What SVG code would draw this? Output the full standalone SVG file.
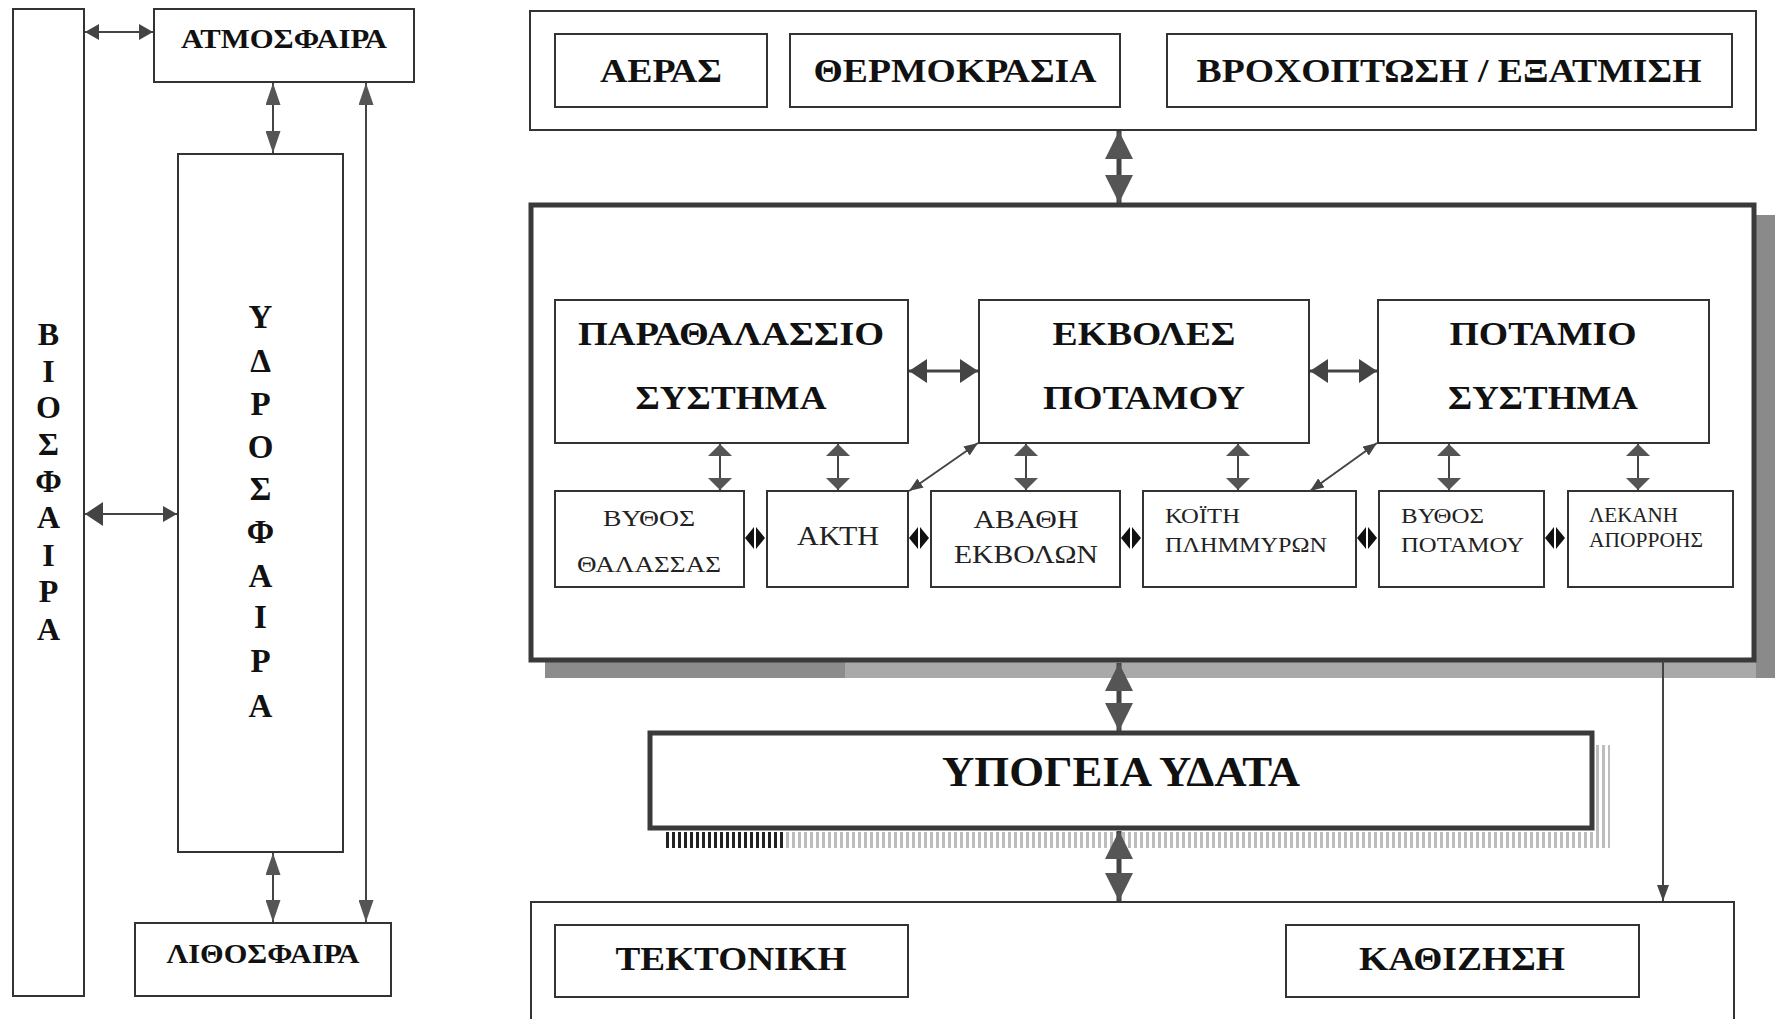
<svg xmlns="http://www.w3.org/2000/svg" width="1776" height="1019" viewBox="0 0 1776 1019">
<style>
  .box { fill: #fff; stroke: #333; stroke-width: 2; }
  .thick { fill: #fff; stroke: #3a3a3a; stroke-width: 5; }
  .b { font-family: "Liberation Serif", "DejaVu Serif", serif; font-weight: bold; fill: #111; text-anchor: middle; }
  .r { font-family: "Liberation Serif", "DejaVu Serif", serif; fill: #222; }
  .c { text-anchor: middle; }
  .ln { stroke: #444; stroke-width: 2; fill: none; }
  .lnm { stroke: #444; stroke-width: 3; fill: none; }
  .lnb { stroke: #444; stroke-width: 5; fill: none; }
  .dia { fill: #111; }
</style>
<defs>
  <marker id="mA" viewBox="0 0 10 10" refX="10" refY="5" markerUnits="userSpaceOnUse" markerWidth="22" markerHeight="15" orient="auto-start-reverse" preserveAspectRatio="none"><path d="M0,0 L10,5 L0,10 z" fill="#555"/></marker>
  <marker id="mB" viewBox="0 0 10 10" refX="10" refY="5" markerUnits="userSpaceOnUse" markerWidth="14" markerHeight="16" orient="auto-start-reverse" preserveAspectRatio="none"><path d="M0,0 L10,5 L0,10 z" fill="#444"/></marker>
  <marker id="mC" viewBox="0 0 10 10" refX="10" refY="5" markerUnits="userSpaceOnUse" markerWidth="28" markerHeight="28" orient="auto-start-reverse" preserveAspectRatio="none"><path d="M0,0 L10,5 L0,10 z" fill="#555"/></marker>
  <marker id="mD" viewBox="0 0 10 10" refX="10" refY="5" markerUnits="userSpaceOnUse" markerWidth="18" markerHeight="24" orient="auto-start-reverse" preserveAspectRatio="none"><path d="M0,0 L10,5 L0,10 z" fill="#444"/></marker>
  <marker id="mE" viewBox="0 0 10 10" refX="10" refY="5" markerUnits="userSpaceOnUse" markerWidth="12" markerHeight="24" orient="auto-start-reverse" preserveAspectRatio="none"><path d="M0,0 L10,5 L0,10 z" fill="#555"/></marker>
  <marker id="mF" viewBox="0 0 10 10" refX="10" refY="5" markerUnits="userSpaceOnUse" markerWidth="14" markerHeight="11" orient="auto-start-reverse" preserveAspectRatio="none"><path d="M0,0 L10,5 L0,10 z" fill="#444"/></marker>
  <marker id="mG" viewBox="0 0 10 10" refX="10" refY="5" markerUnits="userSpaceOnUse" markerWidth="16" markerHeight="12" orient="auto-start-reverse" preserveAspectRatio="none"><path d="M0,0 L10,5 L0,10 z" fill="#444"/></marker>
  <pattern id="stripes" x="0" y="0" width="6" height="10" patternUnits="userSpaceOnUse"><rect x="0" y="0" width="3" height="10" fill="#bdbdbd"/></pattern>
  <pattern id="stripesDark" x="0" y="0" width="6" height="10" patternUnits="userSpaceOnUse"><rect x="0" y="0" width="3" height="10" fill="#222"/></pattern>
</defs>
<rect x="0" y="0" width="1776" height="1019" fill="#fff"/>

<!-- shadows -->
<g id="shadows">
  <rect x="545" y="661" width="300" height="17" fill="#8c8c8c"/>
  <rect x="845" y="661" width="930" height="17" fill="#a9a9a9"/>
  <rect x="1756" y="215" width="19" height="463" fill="#8a8a8a"/>
  <rect x="663" y="832" width="120" height="16" fill="url(#stripesDark)"/>
  <rect x="783" y="832" width="827" height="16" fill="url(#stripes)"/>
  <rect x="1595" y="745" width="15" height="103" fill="url(#stripes)"/>
</g>

<!-- left column -->
<g id="biosfaira">
  <rect class="box" x="13" y="9" width="71" height="987"/>
  <text class="b" font-size="32">
    <tspan x="48.5" y="345">Β</tspan><tspan x="48.5" y="382">Ι</tspan><tspan x="48.5" y="418">Ο</tspan><tspan x="48.5" y="455">Σ</tspan><tspan x="48.5" y="492">Φ</tspan><tspan x="48.5" y="528">Α</tspan><tspan x="48.5" y="566">Ι</tspan><tspan x="48.5" y="602">Ρ</tspan><tspan x="48.5" y="640">Α</tspan>
  </text>
</g>
<g id="atmosfaira">
  <rect class="box" x="154" y="9" width="260" height="73"/>
  <text class="b" x="284" y="48" font-size="27" textLength="206" lengthAdjust="spacingAndGlyphs">ΑΤΜΟΣΦΑΙΡΑ</text>
</g>
<g id="ydrosfaira">
  <rect class="box" x="178" y="154" width="165" height="698"/>
  <text class="b" font-size="33">
    <tspan x="260.5" y="328">Υ</tspan><tspan x="260.5" y="372">Δ</tspan><tspan x="260.5" y="415">Ρ</tspan><tspan x="260.5" y="458">Ο</tspan><tspan x="260.5" y="500">Σ</tspan><tspan x="260.5" y="543">Φ</tspan><tspan x="260.5" y="587">Α</tspan><tspan x="260.5" y="628">Ι</tspan><tspan x="260.5" y="672">Ρ</tspan><tspan x="260.5" y="717">Α</tspan>
  </text>
</g>
<g id="lithosfaira">
  <rect class="box" x="135" y="923" width="256" height="73"/>
  <text class="b" x="263" y="963" font-size="27" textLength="193" lengthAdjust="spacingAndGlyphs">ΛΙΘΟΣΦΑΙΡΑ</text>
</g>

<!-- right: climate -->
<g id="klima">
  <rect class="box" x="530" y="11" width="1226" height="119"/>
</g>
<g id="aeras">
  <rect class="box" x="555" y="34" width="212" height="73"/>
  <text class="b" x="661" y="82" font-size="34" textLength="122" lengthAdjust="spacingAndGlyphs">ΑΕΡΑΣ</text>
</g>
<g id="thermokrasia">
  <rect class="box" x="790" y="34" width="330" height="73"/>
  <text class="b" x="955" y="82" font-size="34" textLength="283" lengthAdjust="spacingAndGlyphs">ΘΕΡΜΟΚΡΑΣΙΑ</text>
</g>
<g id="vroxoptosi">
  <rect class="box" x="1167" y="34" width="565" height="73"/>
  <text class="b" x="1449" y="82" font-size="34" textLength="505" lengthAdjust="spacingAndGlyphs">ΒΡΟΧΟΠΤΩΣΗ / ΕΞΑΤΜΙΣΗ</text>
</g>

<!-- main system -->
<g id="systima">
  <rect class="thick" x="531" y="205" width="1223" height="455"/>
</g>
<g id="parathalassio">
  <rect class="box" x="555" y="300" width="353" height="143"/>
  <text class="b" x="731" y="345" font-size="34" textLength="306" lengthAdjust="spacingAndGlyphs">ΠΑΡΑΘΑΛΑΣΣΙΟ</text>
  <text class="b" x="731" y="409" font-size="34" textLength="191" lengthAdjust="spacingAndGlyphs">ΣΥΣΤΗΜΑ</text>
</g>
<g id="ekvoles">
  <rect class="box" x="979" y="300" width="330" height="143"/>
  <text class="b" x="1144" y="345" font-size="34" textLength="183" lengthAdjust="spacingAndGlyphs">ΕΚΒΟΛΕΣ</text>
  <text class="b" x="1144" y="409" font-size="34" textLength="202" lengthAdjust="spacingAndGlyphs">ΠΟΤΑΜΟΥ</text>
</g>
<g id="potamio">
  <rect class="box" x="1378" y="300" width="331" height="143"/>
  <text class="b" x="1543" y="345" font-size="34" textLength="187" lengthAdjust="spacingAndGlyphs">ΠΟΤΑΜΙΟ</text>
  <text class="b" x="1543" y="409" font-size="34" textLength="190" lengthAdjust="spacingAndGlyphs">ΣΥΣΤΗΜΑ</text>
</g>
<g id="vythos-thalassas">
  <rect class="box" x="555" y="491" width="189" height="96"/>
  <text class="r c" x="649" y="526" font-size="24" textLength="92" lengthAdjust="spacingAndGlyphs">ΒΥΘΟΣ</text>
  <text class="r c" x="649" y="572" font-size="24" textLength="144" lengthAdjust="spacingAndGlyphs">ΘΑΛΑΣΣΑΣ</text>
</g>
<g id="akti">
  <rect class="box" x="767" y="491" width="141" height="96"/>
  <text class="r c" x="838" y="545" font-size="28" textLength="82" lengthAdjust="spacingAndGlyphs">ΑΚΤΗ</text>
</g>
<g id="avathi">
  <rect class="box" x="931" y="491" width="189" height="96"/>
  <text class="r c" x="1026" y="528" font-size="26" textLength="105" lengthAdjust="spacingAndGlyphs">ΑΒΑΘΗ</text>
  <text class="r c" x="1026" y="563" font-size="26" textLength="144" lengthAdjust="spacingAndGlyphs">ΕΚΒΟΛΩΝ</text>
</g>
<g id="koiti">
  <rect class="box" x="1143" y="491" width="213" height="96"/>
  <text class="r" x="1165" y="523" font-size="22" textLength="75" lengthAdjust="spacingAndGlyphs">ΚΟΪΤΗ</text>
  <text class="r" x="1165" y="552" font-size="22" textLength="162" lengthAdjust="spacingAndGlyphs">ΠΛΗΜΜΥΡΩΝ</text>
</g>
<g id="vythos-potamou">
  <rect class="box" x="1379" y="491" width="165" height="96"/>
  <text class="r" x="1401" y="523" font-size="22" textLength="83" lengthAdjust="spacingAndGlyphs">ΒΥΘΟΣ</text>
  <text class="r" x="1401" y="552" font-size="22" textLength="123" lengthAdjust="spacingAndGlyphs">ΠΟΤΑΜΟΥ</text>
</g>
<g id="lekani">
  <rect class="box" x="1568" y="491" width="165" height="96"/>
  <text class="r" x="1589" y="522" font-size="20" textLength="89" lengthAdjust="spacingAndGlyphs">ΛΕΚΑΝΗ</text>
  <text class="r" x="1589" y="547" font-size="20" textLength="114" lengthAdjust="spacingAndGlyphs">ΑΠΟΡΡΟΗΣ</text>
</g>

<!-- groundwater -->
<g id="ypogeia">
  <rect class="thick" x="650" y="733" width="942" height="95"/>
  <text class="b" x="1121" y="786" font-size="42" textLength="358" lengthAdjust="spacingAndGlyphs">ΥΠΟΓΕΙΑ ΥΔΑΤΑ</text>
</g>

<!-- bottom -->
<g id="geologia">
  <rect class="box" x="531" y="902" width="1203" height="140"/>
</g>
<g id="tektoniki">
  <rect class="box" x="555" y="925" width="353" height="72"/>
  <text class="b" x="731" y="970" font-size="34" textLength="231" lengthAdjust="spacingAndGlyphs">ΤΕΚΤΟΝΙΚΗ</text>
</g>
<g id="kathizisi">
  <rect class="box" x="1286" y="925" width="353" height="72"/>
  <text class="b" x="1462" y="970" font-size="34" textLength="206" lengthAdjust="spacingAndGlyphs">ΚΑΘΙΖΗΣΗ</text>
</g>

<!-- connectors -->
<g id="connectors">
  <line class="ln" x1="85" y1="32" x2="153" y2="32" marker-start="url(#mB)" marker-end="url(#mB)"/>
  <line class="ln" x1="85" y1="514" x2="177" y2="514" marker-start="url(#mD)" marker-end="url(#mB)"/>
  <line class="ln" x1="273" y1="83" x2="273" y2="153" marker-start="url(#mA)" marker-end="url(#mA)"/>
  <line class="ln" x1="273" y1="853" x2="273" y2="922" marker-start="url(#mA)" marker-end="url(#mA)"/>
  <line class="ln" x1="366" y1="83" x2="366" y2="922" marker-start="url(#mA)" marker-end="url(#mA)"/>

  <line class="lnb" x1="1119" y1="131" x2="1119" y2="203" marker-start="url(#mC)" marker-end="url(#mC)"/>
  <line class="lnb" x1="1119" y1="663" x2="1119" y2="731" marker-start="url(#mC)" marker-end="url(#mC)"/>
  <line class="lnb" x1="1119" y1="831" x2="1119" y2="901" marker-start="url(#mC)" marker-end="url(#mC)"/>

  <line class="lnm" x1="909" y1="371" x2="978" y2="371" marker-start="url(#mD)" marker-end="url(#mD)"/>
  <line class="lnm" x1="1310" y1="371" x2="1377" y2="371" marker-start="url(#mD)" marker-end="url(#mD)"/>

  <line class="ln" x1="720" y1="444" x2="720" y2="490" marker-start="url(#mE)" marker-end="url(#mE)"/>
  <line class="ln" x1="838" y1="444" x2="838" y2="490" marker-start="url(#mE)" marker-end="url(#mE)"/>
  <line class="ln" x1="1026" y1="444" x2="1026" y2="490" marker-start="url(#mE)" marker-end="url(#mE)"/>
  <line class="ln" x1="1238" y1="444" x2="1238" y2="490" marker-start="url(#mE)" marker-end="url(#mE)"/>
  <line class="ln" x1="1449" y1="444" x2="1449" y2="490" marker-start="url(#mE)" marker-end="url(#mE)"/>
  <line class="ln" x1="1638" y1="444" x2="1638" y2="490" marker-start="url(#mE)" marker-end="url(#mE)"/>

  <line class="ln" x1="909" y1="491" x2="978" y2="443" marker-start="url(#mF)" marker-end="url(#mF)"/>
  <line class="ln" x1="1310" y1="491" x2="1377" y2="443" marker-start="url(#mF)" marker-end="url(#mF)"/>

  <line class="ln" x1="1663" y1="661" x2="1663" y2="901" marker-end="url(#mG)"/>

  <polygon class="dia" points="745,538 754,527 754,549"/><polygon class="dia" points="765,538 756,527 756,549"/>
  <polygon class="dia" points="909,538 918,527 918,549"/><polygon class="dia" points="929,538 920,527 920,549"/>
  <polygon class="dia" points="1121,538 1130,527 1130,549"/><polygon class="dia" points="1141,538 1132,527 1132,549"/>
  <polygon class="dia" points="1357,538 1366,527 1366,549"/><polygon class="dia" points="1377,538 1368,527 1368,549"/>
  <polygon class="dia" points="1545,538 1554,527 1554,549"/><polygon class="dia" points="1565,538 1556,527 1556,549"/>
</g>
</svg>
